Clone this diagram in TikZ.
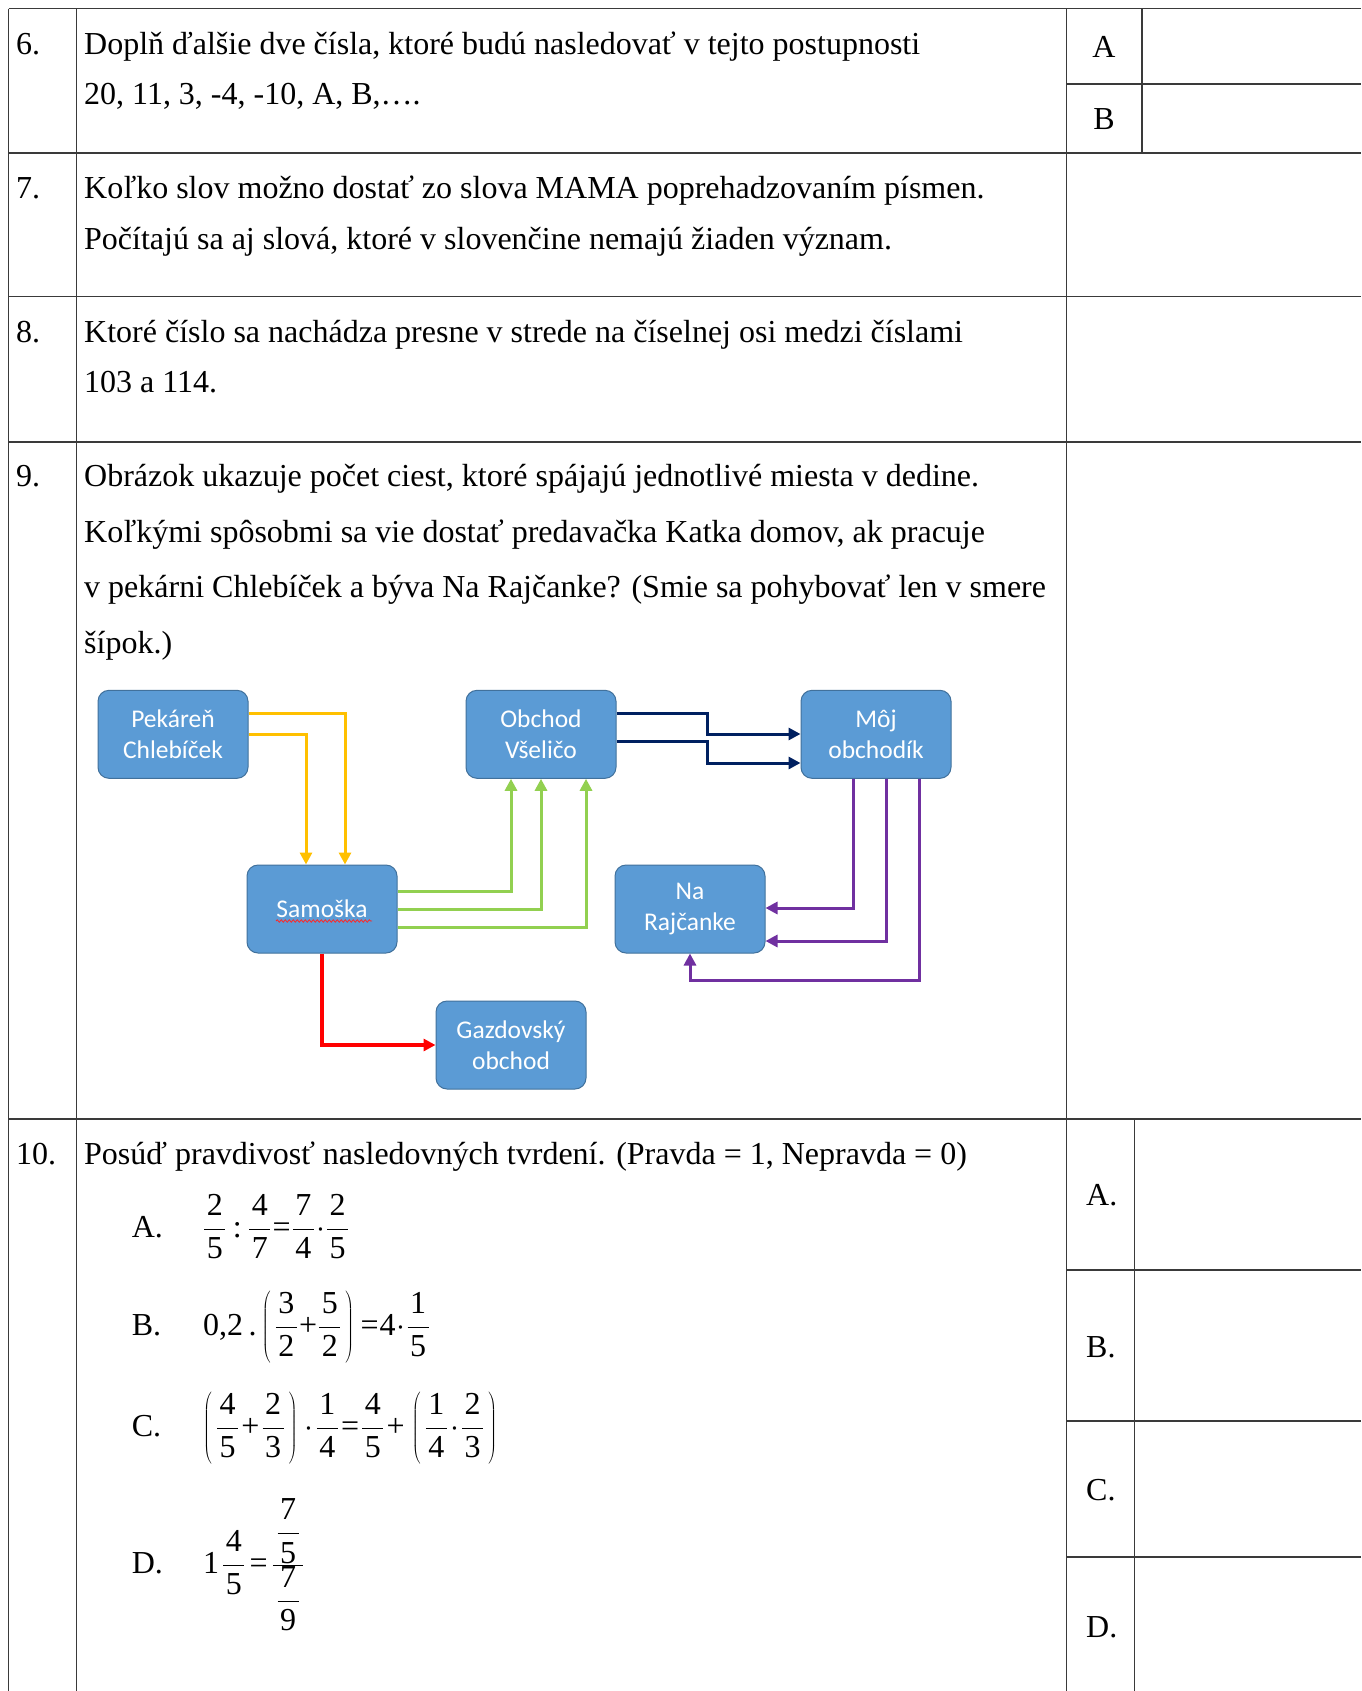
\RequirePackage{fix-cm}
\documentclass[tikz,border=0pt]{standalone}
\usepackage{fontspec}
\setmainfont{Liberation Serif}
\newfontfamily\boxfont{Carlito}
\usetikzlibrary{arrows.meta,decorations.pathmorphing}
\definecolor{boxblue}{HTML}{5B9BD5}
\definecolor{boxedge}{HTML}{41719C}
\definecolor{ylw}{HTML}{FFC000}
\definecolor{grn}{HTML}{92D050}
\definecolor{nvy}{HTML}{002060}
\definecolor{prp}{HTML}{7030A0}
\definecolor{rln}{HTML}{FF0000}
\definecolor{gridc}{HTML}{3A3A3A}
\newcommand\mfr[2]{\frac{\hbox{\kern2.5pt#1\kern2.5pt}}{\hbox{\kern2.5pt#2\kern2.5pt}}}
\newcommand\mop[1]{\mathord{\kern1pt\hbox{#1}\kern1pt}}
\newcommand\mopw[1]{\mathord{\kern2pt\hbox{#1}\kern2pt}}
\newcommand\mdot{\mathord{\kern1pt\cdot\kern1pt}}
\newcommand\mdotw{\mathord{\kern2pt\cdot\kern2pt}}
\newcommand\tallstrut{\vrule height 46pt depth 30pt width 0pt}
\begin{document}
\begin{tikzpicture}[x=1pt,y=-1pt,
  tline/.style={draw=gridc,line width=1.3pt},
  qtext/.style={anchor=base west,inner sep=0pt,font=\fontsize{32}{38}\selectfont},
  ctext/.style={anchor=base,inner sep=0pt,font=\fontsize{32}{38}\selectfont},
  mtext/.style={anchor=base west,inner sep=0pt,font=\fontsize{32}{38}\selectfont},
  bx/.style={rectangle,rounded corners=11pt,fill=boxblue,draw=boxedge,line width=1pt,
    minimum width=150pt,minimum height=88pt,inner sep=0pt,text=white,align=center,
    font=\boxfont\fontsize{25.5}{30.6}\selectfont},
  con/.style={line width=3pt,-{Triangle[length=12pt,width=12pt]}},
  ylwc/.style={con,draw=ylw},
  grnc/.style={con,draw=grn},
  nvyc/.style={con,draw=nvy},
  prpc/.style={con,draw=prp},
  redc/.style={con,draw=rln,line width=3.4pt}
]
\useasboundingbox (0,0) rectangle (1361,1691);
\fill[white] (0,0) rectangle (1361,1691);
% ---------- table grid ----------
\foreach \yy in {8.6,153,296.6,442,1119}
  \draw[tline] (8.6,\yy) -- (1361,\yy);
\draw[tline] (8.6,8.6) -- (8.6,1691);
\draw[tline] (76.6,8.6) -- (76.6,1691);
\draw[tline] (1066.6,8.6) -- (1066.6,1691);
\draw[tline] (1142,8.6) -- (1142,153);
\draw[tline] (1066.6,84) -- (1361,84);
\draw[tline] (1134.5,1119) -- (1134.5,1691);
\foreach \yy in {1270,1421,1557}
  \draw[tline] (1066.6,\yy) -- (1361,\yy);
% ---------- question 6 ----------
\node[qtext] (n6) at (16,55) {6.};
\node[qtext] (q6a) at (84,55) {Doplň ďalšie dve čísla, ktoré budú nasledovať v tejto postupnosti};
\node[qtext] (q6b) at (84,104.5) {20, 11, 3, -4, -10, A, B,….};
\node[ctext] (a6A) at (1104,58) {A};
\node[ctext] (a6B) at (1104,130) {B};
% ---------- question 7 ----------
\node[qtext] (n7) at (16,198) {7.};
\node[qtext] (q7a) at (84,198) {Koľko slov možno dostať zo slova MAMA poprehadzovaním písmen.};
\node[qtext] (q7b) at (84,249) {Počítajú sa aj slová, ktoré v slovenčine nemajú žiaden význam.};
% ---------- question 8 ----------
\node[qtext] (n8) at (16,342) {8.};
\node[qtext] (q8a) at (84,342) {Ktoré číslo sa nachádza presne v strede na číselnej osi medzi číslami};
\node[qtext] (q8b) at (84,392.5) {103 a 114.};
% ---------- question 9 ----------
\node[qtext] (n9) at (16,486) {9.};
\node[qtext] (q9a) at (84,486) {Obrázok ukazuje počet ciest, ktoré spájajú jednotlivé miesta v dedine.};
\node[qtext] (q9b) at (84,542) {Koľkými spôsobmi sa vie dostať predavačka Katka domov, ak pracuje};
\node[qtext] (q9c) at (84,597) {v pekárni Chlebíček a býva Na Rajčanke? (Smie sa pohybovať len v smere};
\node[qtext] (q9d) at (84,653) {šípok.)};
% diagram
\node[bx] (pek) at (173,734.3) {Pekáreň\\Chlebíček};
\node[bx] (obch) at (541,734.3) {Obchod\\Všeličo};
\node[bx] (moj) at (876,734.3) {Môj\\obchodík};
\node[bx] (sam) at (322,909) {Samoška};
\node[bx] (raj) at (690,909) {Na\\Rajčanke};
\node[bx] (gaz) at (511,1045) {Gazdovský\\obchod};
\draw[rln!85!white,line width=0.8pt,decorate,decoration={snake,amplitude=1.2pt,segment length=4pt}] (276,921) -- (372,921);
% yellow
\draw[ylwc] (pek.east |- 0,713) -| (345,0 |- sam.north);
\draw[ylwc] (pek.east |- 0,734) -| (306,0 |- sam.north);
% green
\draw[grnc] (sam.east |- 0,891) -| (511,0 |- obch.south);
\draw[grnc] (sam.east |- 0,909) -| (541,0 |- obch.south);
\draw[grnc] (sam.east |- 0,927) -| (586,0 |- obch.south);
% red
\draw[redc] (sam.south) |- (gaz.west);
% navy
\draw[nvyc] (obch.east |- 0,713) -- (707,713) -- (707,734) -- (moj.west |- 0,734);
\draw[nvyc] (obch.east |- 0,741) -- (707,741) -- (707,763) -- (moj.west |- 0,763);
% purple
\draw[prpc] (853,0 |- moj.south) -- (853,908) -- (raj.east |- 0,908);
\draw[prpc] (886,0 |- moj.south) -- (886,941) -- (raj.east |- 0,941);
\draw[prpc] (919,0 |- moj.south) -- (919,980) -- (690,980) -- (raj.south);
% ---------- question 10 ----------
\node[qtext] (n10) at (16,1164.5) {10.};
\node[qtext] (q10) at (84,1164.5) {Posúď pravdivosť nasledovných tvrdení. (Pravda = 1, Nepravda = 0)};
\node[qtext] (lA) at (131.6,1237) {A.};
\node[qtext] (lB) at (131.6,1335) {B.};
\node[qtext] (lC) at (131.6,1436) {C.};
\node[qtext] (lD) at (131.6,1573) {D.};
\node[mtext] (mA) at (203,1237) {$\displaystyle \mfr{2}{5}\mop{\,:\,}\mfr{4}{7}\mop{=}\mfr{7}{4}\mdot\mfr{2}{5}$};
\node[mtext] (mB) at (203,1335) {$\displaystyle \hbox{0,2\,.}\left(\tallstrut\kern4pt\mfr{3}{2}\mop{+}\mfr{5}{2}\kern4pt\right)\mop{=}\hbox{4}\mdot\mfr{1}{5}$};
\node[mtext] (mC) at (203,1436) {$\displaystyle \left(\tallstrut\kern4pt\mfr{4}{5}\mopw{+}\mfr{2}{3}\kern4pt\right)\mdotw\mfr{1}{4}\mopw{=}\mfr{4}{5}\mopw{+}\left(\tallstrut\kern4pt\mfr{1}{4}\mdotw\mfr{2}{3}\kern4pt\right)$};
\node[mtext] (mD) at (203,1573) {$\displaystyle \hbox{1}\kern3pt\mfr{4}{5}\mopw{\kern2pt=\kern2pt}\frac{\displaystyle\kern3.5pt\mfr{7}{5}\kern3.5pt}{\displaystyle\kern3.5pt\mfr{7}{9}\kern3.5pt}$};
\node[qtext] (rA) at (1086,1205.5) {A.};
\node[qtext] (rB) at (1086,1357.5) {B.};
\node[qtext] (rC) at (1086,1500) {C.};
\node[qtext] (rD) at (1086,1637) {D.};
\end{tikzpicture}
\end{document}
